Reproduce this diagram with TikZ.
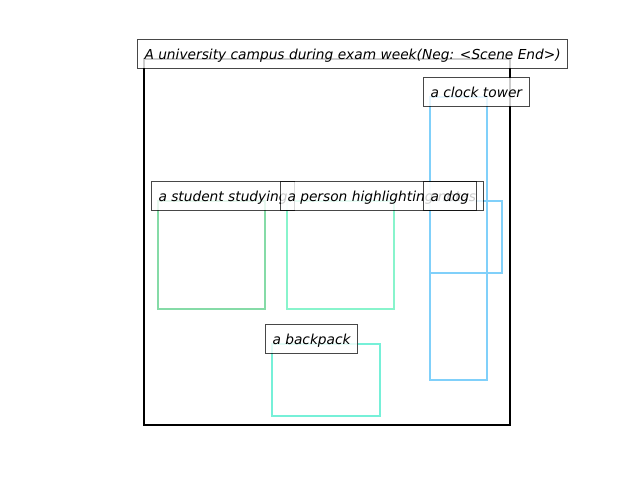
\documentclass[tikz,border=0pt]{standalone}
\usepackage{fontspec}
\setmainfont{DejaVu Sans}
\begin{document}
% one unit = one pixel of a 640x480 canvas, y axis pointing down
\begin{tikzpicture}[x=0.72pt, y=-0.72pt,
  framebox/.style={draw=black, line width=1.44pt},
  regionbox/.style={line width=1.75pt},
  tag/.style={anchor=base west, draw=black, draw opacity=0.72, line width=0.72pt,
    fill=white, fill opacity=0.8, text opacity=1,
    inner xsep=5.04pt, inner ysep=0pt,
    text height=13.8pt, text depth=6.6pt,
    font=\fontsize{9.9pt}{12pt}\selectfont\itshape}]
\definecolor{studentcol}{RGB}{133,219,167}
\definecolor{personcol}{RGB}{136,244,204}
\definecolor{packcol}{RGB}{118,240,216}
\definecolor{skycol}{RGB}{128,208,250}
\useasboundingbox (0,0) rectangle (640,480);

% scene frame
\draw[framebox] (144,59) rectangle (510,425);

% object regions
\draw[regionbox, draw=studentcol] (158,201) rectangle (265,309);
\draw[regionbox, draw=personcol] (287,201) rectangle (394,309);
\draw[regionbox, draw=packcol] (272,344) rectangle (380,416);
\draw[regionbox, draw=skycol] (430,97) rectangle (487,380);
\draw[regionbox, draw=skycol] (430,201) rectangle (502,273);

% captions, drawn over the regions
\node[tag] (scene) at (137,59) {A university campus during exam week(Neg: <Scene End>)};
\node[tag] (tower) at (423,97) {a clock tower};
\node[tag] (student) at (151,201) {a student studying};
\node[tag] (person) at (280,201) {a person highlighting notes};
\node[tag] (dog) at (423,201) {a dog};
\node[tag] (pack) at (265,344) {a backpack};
\end{tikzpicture}
\end{document}
